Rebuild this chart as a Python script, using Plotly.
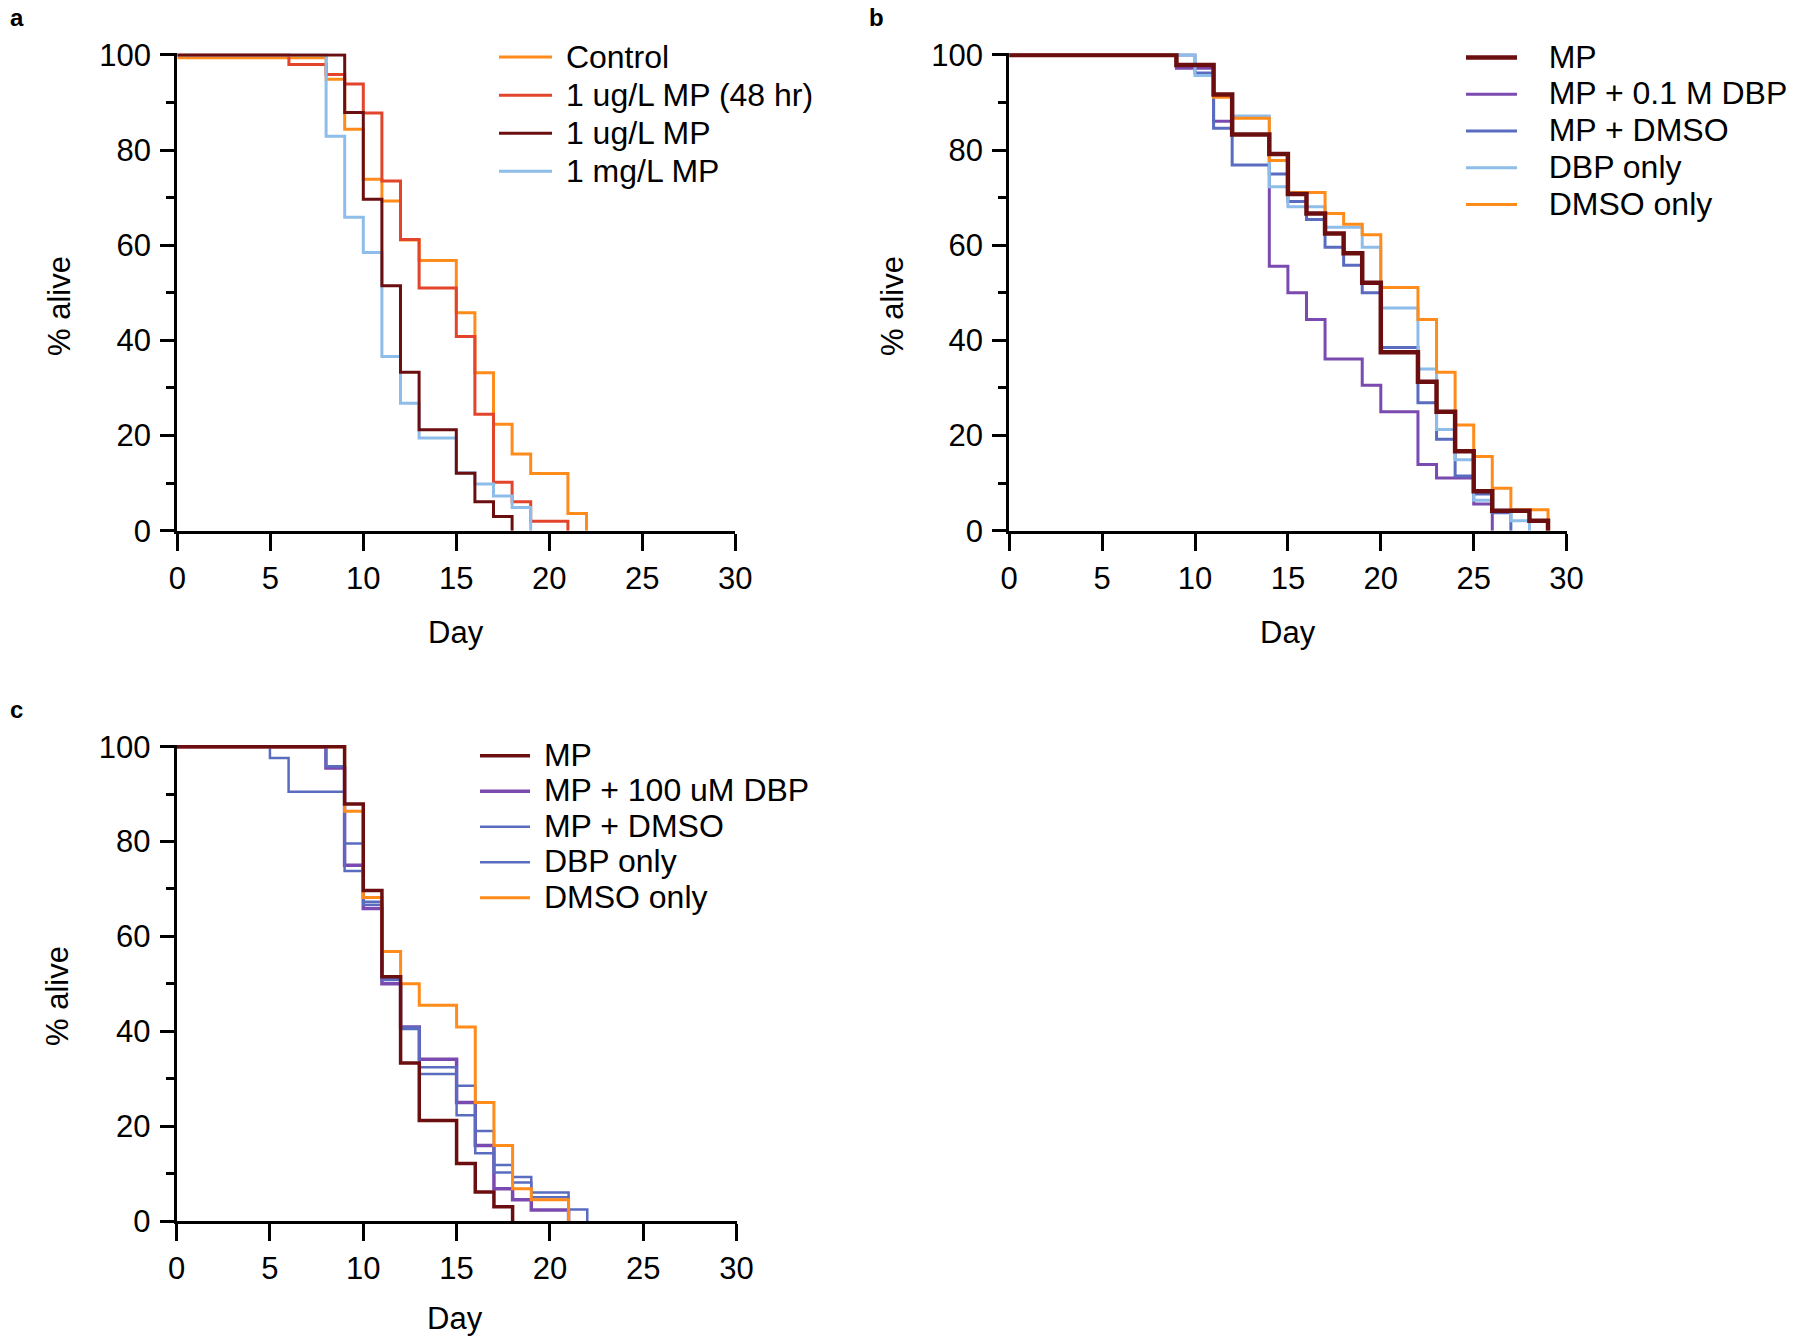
import plotly.graph_objects as go

W, H = 1800, 1342
FONT = "Liberation Sans, Arial, sans-serif"

# ---------------- Panel a data ----------------
a_control_day = [0, 8, 9, 10, 11, 12, 13, 15, 16, 17, 18, 19, 21, 22]
a_control_pct = [99.4, 94.9, 84.4, 73.9, 69.3, 61.1, 56.8, 45.8, 33.2, 22.4, 16.1, 12.0, 3.6, 0]
a_mp48_day = [0, 6, 8, 9, 10, 11, 12, 13, 15, 16, 17, 18, 19, 21]
a_mp48_pct = [100, 98.0, 95.9, 93.9, 87.8, 73.5, 61.2, 51.0, 40.8, 24.5, 10.2, 6.1, 2.0, 0]
a_mp1ug_day = [0, 9, 10, 11, 12, 13, 15, 16, 17, 18]
a_mp1ug_pct = [100, 87.9, 69.7, 51.5, 33.3, 21.2, 12.1, 6.1, 3.0, 0]
a_mp1mg_day = [0, 8, 9, 10, 11, 12, 13, 15, 16, 17, 18, 19]
a_mp1mg_pct = [100, 82.9, 65.9, 58.5, 36.6, 26.8, 19.5, 12.2, 9.8, 7.3, 4.9, 0]

# ---------------- Panel b data ----------------
b_mp_day = [0, 9, 11, 12, 14, 15, 16, 17, 18, 19, 20, 22, 23, 24, 25, 26, 28, 29]
b_mp_pct = [100, 97.9, 91.7, 83.3, 79.2, 70.8, 66.7, 62.5, 58.3, 52.1, 37.5, 31.3, 25.0, 16.7, 8.3, 4.2, 2.1, 0]
b_mpdbp_day = [0, 9, 11, 12, 14, 15, 16, 17, 19, 20, 22, 23, 25, 26]
b_mpdbp_pct = [100, 97.2, 86.1, 83.3, 55.6, 50.0, 44.4, 36.1, 30.6, 25.0, 13.9, 11.1, 5.6, 0]
b_mpdmso_day = [0, 10, 11, 12, 14, 15, 16, 17, 18, 19, 20, 22, 23, 24, 25, 26, 27]
b_mpdmso_pct = [100, 96.2, 84.6, 76.9, 75.0, 69.2, 65.4, 59.6, 55.8, 50.0, 38.5, 26.9, 19.2, 11.5, 7.7, 3.8, 0]
b_dbp_day = [0, 10, 11, 12, 14, 15, 17, 19, 20, 22, 23, 24, 25, 26, 27, 28]
b_dbp_pct = [100, 95.7, 91.5, 87.2, 72.3, 68.1, 63.8, 59.6, 46.8, 34.0, 21.3, 14.9, 6.4, 4.3, 2.1, 0]
b_dmso_day = [0, 9, 11, 12, 14, 15, 17, 18, 19, 20, 22, 23, 24, 25, 26, 27, 29]
b_dmso_pct = [100, 97.8, 91.1, 86.7, 77.8, 71.1, 66.7, 64.4, 62.2, 51.1, 44.4, 33.3, 22.2, 15.6, 8.9, 4.4, 0]

# ---------------- Panel c data ----------------
c_mp_day = [0, 9, 10, 11, 12, 13, 15, 16, 17, 18]
c_mp_pct = [100, 87.9, 69.7, 51.5, 33.3, 21.2, 12.1, 6.1, 3.0, 0]
c_mpdbp_day = [0, 8, 9, 10, 11, 12, 13, 15, 16, 17, 18, 19, 21]
c_mpdbp_pct = [100, 95.5, 75.0, 65.9, 50.0, 40.9, 34.1, 25.0, 15.9, 6.8, 4.5, 2.3, 0]
c_mpdmso_day = [0, 8, 9, 10, 11, 12, 13, 15, 16, 17, 18, 19, 21]
c_mpdmso_pct = [100, 95.9, 79.6, 67.3, 51.2, 40.8, 32.4, 28.5, 19.0, 11.8, 9.3, 6.0, 0]
c_dbp_day = [0, 5, 6, 9, 10, 11, 12, 13, 15, 16, 17, 18, 19, 21, 22]
c_dbp_pct = [100, 97.6, 90.5, 73.8, 66.7, 50.8, 40.5, 31.0, 22.3, 14.3, 10.2, 8.1, 5.0, 2.4, 0]
c_dmso_day = [0, 9, 10, 11, 12, 13, 15, 16, 17, 18, 19, 21]
c_dmso_pct = [100, 86.4, 68.2, 56.8, 50.0, 45.5, 40.9, 25.0, 15.9, 6.8, 4.5, 0]

x_ticks = [0, 5, 10, 15, 20, 25, 30]
y_ticks = [0, 20, 40, 60, 80, 100]
y_minor_ticks = [10, 30, 50, 70, 90]

ORANGE = "#FF8C1A"
RED = "#E2452B"
DARKRED = "#6B0E10"
LIGHTBLUE = "#8EBDE9"
PURPLE = "#7A4AB0"
BLUE = "#5A6CC0"

TEXT_PX = 32
NBSP = "\u00a0"

# (name, days, pct, color, width, legend rank)
panel_a = [
    ("Control", a_control_day, a_control_pct, ORANGE, 3, 1),
    ("1 ug/L MP (48 hr)", a_mp48_day, a_mp48_pct, RED, 3, 2),
    ("1 mg/L MP", a_mp1mg_day, a_mp1mg_pct, LIGHTBLUE, 3, 4),
    ("1 ug/L MP", a_mp1ug_day, a_mp1ug_pct, DARKRED, 3, 3),
]
panel_b = [
    ("MP + 0.1 M DBP", b_mpdbp_day, b_mpdbp_pct, PURPLE, 3, 2),
    ("MP + DMSO", b_mpdmso_day, b_mpdmso_pct, BLUE, 3, 3),
    ("DBP only", b_dbp_day, b_dbp_pct, LIGHTBLUE, 3, 4),
    ("DMSO only", b_dmso_day, b_dmso_pct, ORANGE, 3, 5),
    ("MP", b_mp_day, b_mp_pct, DARKRED, 4.5, 1),
]
panel_c = [
    ("MP + 100 uM DBP", c_mpdbp_day, c_mpdbp_pct, PURPLE, 3.5, 2),
    ("MP + DMSO", c_mpdmso_day, c_mpdmso_pct, BLUE, 2.5, 3),
    ("DBP only", c_dbp_day, c_dbp_pct, BLUE, 2.5, 4),
    ("DMSO only", c_dmso_day, c_dmso_pct, ORANGE, 3, 5),
    ("MP", c_mp_day, c_mp_pct, DARKRED, 3.5, 1),
]

fig = go.Figure()
for series, xa, ya, leg, gap in [(panel_a, "x", "y", "legend", 1),
                                 (panel_b, "x2", "y2", "legend2", 3),
                                 (panel_c, "x3", "y3", "legend3", 1)]:
    for name, d, p, col, w, rank in series:
        fig.add_trace(go.Scatter(
            x=d, y=p, mode="lines",
            name='<span style="font-size:%dpx">%s%s</span>' % (TEXT_PX, NBSP * gap, name),
            line=dict(color=col, width=w, shape="hv"),
            xaxis=xa, yaxis=ya, legend=leg, legendrank=rank,
            hoverinfo="skip"))


def px_x(px):
    return px / W


def px_y(px):
    return 1 - px / H


# pixel geometry of each panel: x(day 0), x(day 30), y(100 %), y(0 %)
geo = {
    "a": (177.3, 735.3, 55.0, 530.7),
    "b": (1009.2, 1566.6, 55.0, 530.7),
    "c": (176.6, 736.6, 746.7, 1221.0),
}
YMAX = 100.35


def axes(g):
    x0, x1, y100, y0 = g
    ytop = y0 - (y0 - y100) * YMAX / 100.0
    xa = dict(domain=[px_x(x0), px_x(x1)], range=[0, 30], tickvals=x_ticks,
              showline=True, linewidth=3, linecolor="black", ticks="outside",
              ticklen=17, tickwidth=3, tickcolor="black", showgrid=False,
              zeroline=False, tickfont=dict(size=31, color="black", family=FONT),
              ticklabelstandoff=1, fixedrange=True, automargin=False)
    ya = dict(domain=[px_y(y0), px_y(ytop)], range=[0, YMAX], tickvals=y_ticks,
              showline=True, linewidth=3, linecolor="black", ticks="outside",
              ticklen=14, tickwidth=3, tickcolor="black", showgrid=False,
              zeroline=False, tickfont=dict(size=31, color="black", family=FONT),
              ticklabelstandoff=3,
              minor=dict(tickvals=y_minor_ticks, ticks="outside", ticklen=8,
                         tickwidth=3, tickcolor="black", showgrid=False),
              fixedrange=True, automargin=False)
    return xa, ya


xa, ya = axes(geo["a"])
xb, yb = axes(geo["b"])
xc, yc = axes(geo["c"])
xa["anchor"] = "y"; ya["anchor"] = "x"
xb["anchor"] = "y2"; yb["anchor"] = "x2"
xc["anchor"] = "y3"; yc["anchor"] = "x3"


def legend_cfg(x, y, spacing_font, itemwidth):
    return dict(bgcolor="rgba(0,0,0,0)", borderwidth=0, xanchor="left",
                yanchor="top", x=px_x(x), y=px_y(y),
                font=dict(size=spacing_font, color="black", family=FONT),
                traceorder="normal", itemwidth=itemwidth, tracegroupgap=0)


fig.update_layout(
    width=W, height=H,
    margin=dict(l=0, r=0, t=0, b=0, pad=0, autoexpand=False),
    paper_bgcolor="white", plot_bgcolor="white",
    font=dict(family=FONT, color="black"),
    xaxis=xa, yaxis=ya, xaxis2=xb, yaxis2=yb, xaxis3=xc, yaxis3=yc,
    legend=legend_cfg(494, 33, 27, 53),
    legend2=legend_cfg(1461, 34, 26, 51),
    legend3=legend_cfg(475, 733, 25, 50),
    showlegend=True,
)

anns = []
# panel letters
for letter, x, y in [("a", 17, 18), ("b", 876, 18), ("c", 16, 709)]:
    anns.append(dict(text="<b>%s</b>" % letter, x=px_x(x), y=px_y(y), xref="paper",
                     yref="paper", showarrow=False, xanchor="center", yanchor="middle",
                     font=dict(size=24, family=FONT, color="black")))
# axis titles
for x, y in [(456, 632), (1288, 632), (455, 1318)]:
    anns.append(dict(text="Day", x=px_x(x), y=px_y(y), xref="paper", yref="paper",
                     showarrow=False, xanchor="center", yanchor="middle",
                     font=dict(size=31, family=FONT, color="black")))
for x, y in [(60, 306), (893, 306), (58, 996)]:
    anns.append(dict(text="% alive", x=px_x(x), y=px_y(y), xref="paper", yref="paper",
                     showarrow=False, xanchor="center", yanchor="middle", textangle=-90,
                     font=dict(size=31, family=FONT, color="black")))
fig.update_layout(annotations=anns)

fig.write_html("out.html", config={"displayModeBar": False})
